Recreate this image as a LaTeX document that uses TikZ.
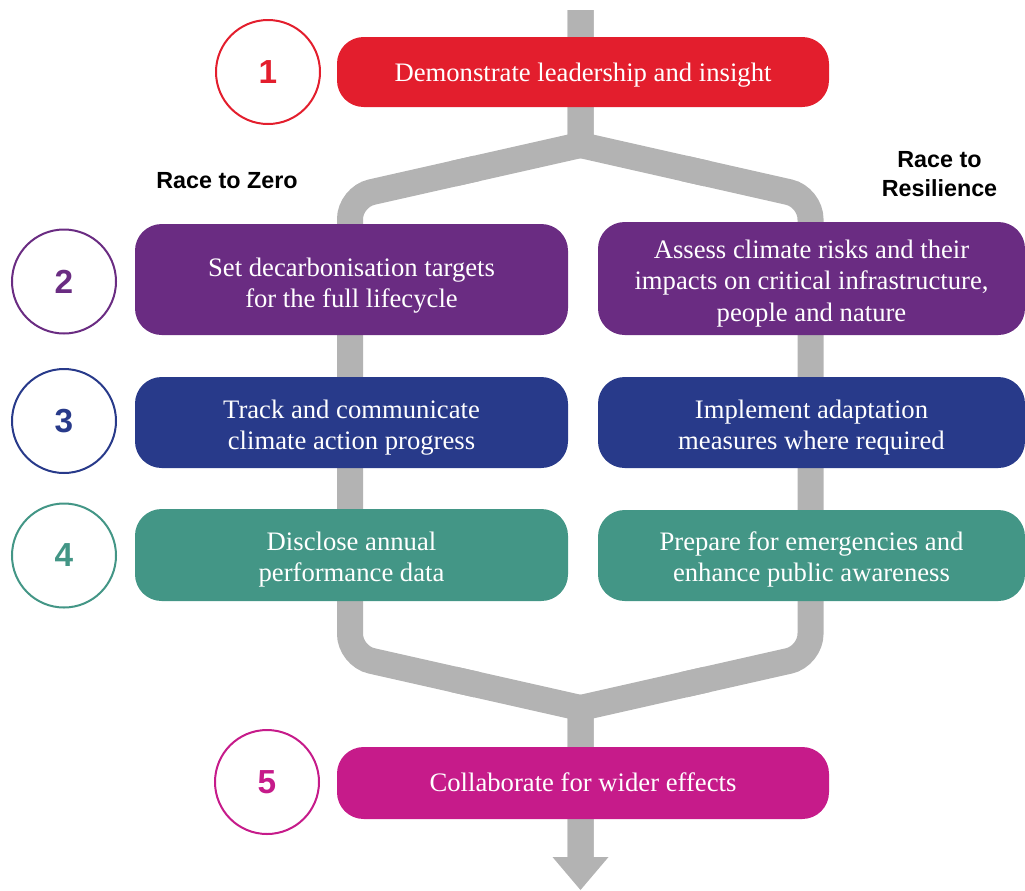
\documentclass[tikz,border=0pt]{standalone}
\usepackage{fontspec}
\setmainfont{Liberation Serif}
\newfontfamily\labelsans{Liberation Sans}
\usetikzlibrary{calc}

\definecolor{cred}{RGB}{227,30,45}
\definecolor{cpurple}{RGB}{106,44,130}
\definecolor{cnavy}{RGB}{40,58,138}
\definecolor{cteal}{RGB}{67,150,134}
\definecolor{cmagenta}{RGB}{198,27,138}
\definecolor{flowgray}{RGB}{179,179,179}

\begin{document}
\begin{tikzpicture}[x=0.75pt,y=-0.75pt,
  flow/.style={draw=flowgray, line width=19.5pt, line join=miter, line cap=butt},
  trackline/.style={flow, rounded corners=16.5pt},
  stepbox/.style={rounded corners=20pt, inner sep=0pt},
  steptext/.style={text=white, align=center, inner sep=0pt,
    font=\fontsize{20}{23.6}\selectfont},
  widebox/.style={stepbox, minimum width=369pt},
  leftbox/.style={stepbox, minimum width=324.75pt},
  rightbox/.style={stepbox, minimum width=320.25pt},
  numring/.style={circle, draw=#1, text=#1, line width=1.5pt, fill=white,
    minimum size=78pt, inner sep=0pt,
    font=\labelsans\bfseries\fontsize{25}{25}\selectfont},
  tracklabel/.style={align=center, inner sep=0pt,
    font=\labelsans\bfseries\fontsize{17.5}{21.75}\selectfont}]
\useasboundingbox (0,0) rectangle (1025,890);

% points of the grey flow line
\coordinate (top) at (580.5,10);
\coordinate (split) at (580.5,145);
\coordinate (lA) at (350,197);
\coordinate (lB) at (350,656);
\coordinate (rA) at (810.5,197);
\coordinate (rB) at (810.5,656);
\coordinate (merge) at (580.5,708);
\coordinate (headbase) at (580.5,858);
\coordinate (headL) at (552.5,857);
\coordinate (headR) at (608.5,857);
\coordinate (tip) at (580.5,890);
% overlapping hand-over points on the diagonals
\coordinate (lmidA1) at ($(split)!0.55!(lA)$);
\coordinate (lmidA2) at ($(split)!0.45!(lA)$);
\coordinate (rmidA1) at ($(split)!0.55!(rA)$);
\coordinate (rmidA2) at ($(split)!0.45!(rA)$);
\coordinate (lmidB1) at ($(merge)!0.55!(lB)$);
\coordinate (lmidB2) at ($(merge)!0.45!(lB)$);
\coordinate (rmidB1) at ($(merge)!0.55!(rB)$);
\coordinate (rmidB2) at ($(merge)!0.45!(rB)$);

% trunk and split (sharp joins)
\draw[flow] (top) -- (split) -- (lmidA1);
\draw[flow] (top) -- (split) -- (rmidA1);
% the two tracks (rounded turns)
\draw[trackline] (lmidA2) -- (lA) -- (lB) -- (lmidB2);
\draw[trackline] (rmidA2) -- (rA) -- (rB) -- (rmidB2);
% merge and outlet arrow
\draw[flow] (lmidB1) -- (merge) -- (headbase);
\draw[flow] (rmidB1) -- (merge) -- (headbase);
\fill[flowgray] (headL) -- (headR) -- (tip) -- cycle;

% step boxes
\node[widebox, fill=cred, minimum height=52.5pt] (s1) at (583,72) {};
\node[leftbox, fill=cpurple, minimum height=83.25pt] (z2) at (351.5,279.5) {};
\node[leftbox, fill=cnavy, minimum height=68.25pt] (z3) at (351.5,422.5) {};
\node[leftbox, fill=cteal, minimum height=69pt] (z4) at (351.5,555) {};
\node[rightbox, fill=cpurple, minimum height=84.75pt] (r2) at (811.5,278.5) {};
\node[rightbox, fill=cnavy, minimum height=68.25pt] (r3) at (811.5,422.5) {};
\node[rightbox, fill=cteal, minimum height=68.25pt] (r4) at (811.5,555.5) {};
\node[widebox, fill=cmagenta, minimum height=54pt] (s5) at (583,783) {};

% box texts
\node[steptext] (s1t) at ([yshift=-2.2pt]s1.center)
  {Demonstrate leadership and insight};
\node[steptext] (z2t) at ([yshift=-4.5pt]z2.center)
  {Set decarbonisation targets\\for the full lifecycle};
\node[steptext] (z3t) at ([yshift=-3.8pt]z3.center)
  {Track and communicate\\climate action progress};
\node[steptext] (z4t) at ([yshift=-3.4pt]z4.center)
  {Disclose annual\\performance data};
\node[steptext] (r2t) at ([yshift=-3.8pt]r2.center)
  {Assess climate risks and their\\impacts on critical infrastructure,\\people and nature};
\node[steptext] (r3t) at ([yshift=-3.8pt]r3.center)
  {Implement adaptation\\measures where required};
\node[steptext] (r4t) at ([yshift=-3pt]r4.center)
  {Prepare for emergencies and\\enhance public awareness};
\node[steptext] (s5t) at ([yshift=0.5pt]s5.center)
  {Collaborate for wider effects};

% numbered rings
\node[numring=cred] (c1) at (268,72) {1};
\node[numring=cpurple] (c2) at (64,281.5) {2};
\node[numring=cnavy] (c3) at (64,421) {3};
\node[numring=cteal] (c4) at (64,555.5) {4};
\node[numring=cmagenta] (c5) at (267,782) {5};

% track titles
\node[tracklabel] (zero) at (227,181) {Race to Zero};
\node[tracklabel] (resil) at (939.5,174) {Race to\\Resilience};
\end{tikzpicture}
\end{document}
